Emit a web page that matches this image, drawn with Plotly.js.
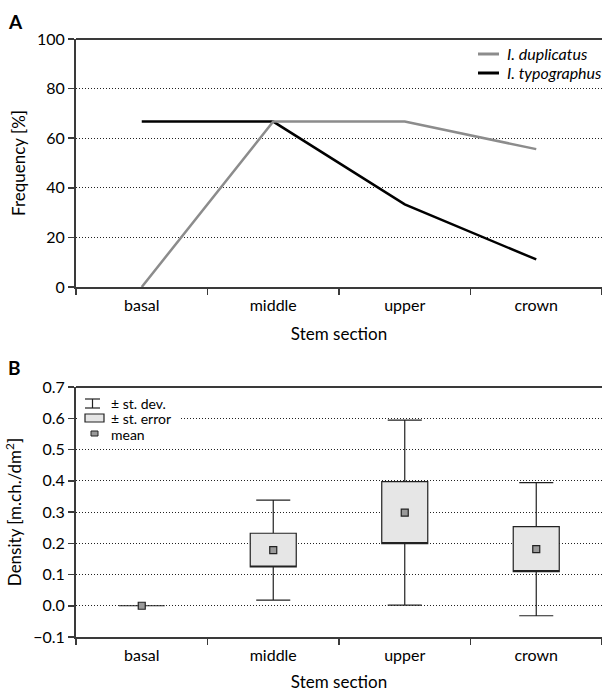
<!DOCTYPE html>
<html>
<head>
<meta charset="utf-8">
<script src="https://cdn.plot.ly/plotly-3.0.1.min.js"></script>
<style>html,body{margin:0;padding:0;background:#fff;}#chart{width:602px;height:692px;}</style>
</head>
<body>
<div id="chart"></div>
<script>
// ---- data ----
const sections = ['basal', 'middle', 'upper', 'crown'];
const duplicatusFreq = [0, 66.7, 66.7, 55.6];
const typographusFreq = [66.7, 66.7, 33.3, 11.1];
const densityMean = [0, 0.178, 0.298, 0.181];
const densityStErr = [0, 0.054, 0.099, 0.072];
const densityStDev = [0, 0.160, 0.296, 0.213];
const freqTicks = [0, 20, 40, 60, 80, 100];
const densTicks = [-0.1, 0, 0.1, 0.2, 0.3, 0.4, 0.5, 0.6, 0.7];
const seriesNames = ['I. duplicatus', 'I. typographus'];

// ---- geometry helpers (decorations only) ----
const W = 602, H = 692, ML = 76, MR = 0, MT = 39, MB = 55;
const PW = W - ML - MR, PH = H - MT - MB;
const px = p => (p - ML) / PW;
const py = p => (H - MB - p) / PH;

const FONT = 'Lato, "Open Sans", sans-serif';
const AXC = '#3a3a3a';
const GRAY = '#8c8c8c';

const q1 = densityMean.map((m, i) => m - densityStErr[i]);
const q3 = densityMean.map((m, i) => m + densityStErr[i]);
const lowF = densityMean.map((m, i) => m - densityStDev[i]);
const upF = densityMean.map((m, i) => m + densityStDev[i]);

const traces = [
  {type: 'scatter', mode: 'lines', x: sections, y: typographusFreq, name: seriesNames[1],
   line: {color: '#000000', width: 2.5}, xaxis: 'x', yaxis: 'y', showlegend: false},
  {type: 'scatter', mode: 'lines', x: sections, y: duplicatusFreq, name: seriesNames[0],
   line: {color: GRAY, width: 2.5}, xaxis: 'x', yaxis: 'y', showlegend: false},
  {type: 'box', x: sections, q1: q1, median: q1, q3: q3, lowerfence: lowF, upperfence: upF,
   width: 0.35, whiskerwidth: 0.74, fillcolor: '#e6e6e6', line: {color: '#222', width: 1.2},
   boxpoints: false, showlegend: false, xaxis: 'x2', yaxis: 'y2', hoverinfo: 'skip'},
  {type: 'scatter', mode: 'markers', x: sections, y: densityMean, showlegend: false,
   marker: {symbol: 'square', size: 7, color: '#9a9a9a', line: {color: '#222', width: 1.2}}, xaxis: 'x2', yaxis: 'y2'}
];

const xcommon = {
  type: 'category', categoryorder: 'array', categoryarray: sections, range: [-0.5, 3.5],
  showline: true, linecolor: AXC, linewidth: 2, mirror: false,
  ticks: 'outside', tickson: 'boundaries', ticklen: 6, tickwidth: 1.5, tickcolor: AXC,
  ticklabelstandoff: 3,
  showgrid: false, zeroline: false, tickfont: {family: FONT, size: 16, color: '#000'},
  fixedrange: true
};
const ycommon = {
  showline: true, linecolor: AXC, linewidth: 2, ticks: 'outside', ticklen: 6, tickwidth: 1.5, tickcolor: AXC,
  showgrid: true, gridcolor: '#222', gridwidth: 1, griddash: '1px,2px', zeroline: false,
  tickfont: {family: FONT, size: 16, color: '#000'}, fixedrange: true
};

const layout = {
  width: W, height: H,
  margin: {l: ML, r: MR, t: MT, b: MB},
  paper_bgcolor: '#fff', plot_bgcolor: '#fff',
  font: {family: FONT, color: '#000'},
  showlegend: false,
  xaxis: Object.assign({}, xcommon, {anchor: 'y',
    title: {text: 'Stem section', font: {family: FONT, size: 17}, standoff: 15}}),
  yaxis: Object.assign({}, ycommon, {domain: [py(287), 1], range: [0, 100], tickvals: freqTicks,
    title: {text: 'Frequency [%]', font: {family: FONT, size: 17}, standoff: 7}}),
  xaxis2: Object.assign({}, xcommon, {anchor: 'y2',
    title: {text: 'Stem section', font: {family: FONT, size: 17}, standoff: 15}}),
  yaxis2: Object.assign({}, ycommon, {domain: [0, py(387)], range: [-0.1, 0.7], tickvals: densTicks, tickformat: '.1f',
    title: {text: 'Density [m.ch./dm<sup>2</sup>]', font: {family: FONT, size: 17}, standoff: 7}}),
  shapes: [
    // top border lines
    {type: 'line', xref: 'paper', yref: 'paper', x0: 0, x1: 1, y0: 1, y1: 1, line: {color: AXC, width: 2}},
    {type: 'line', xref: 'paper', yref: 'paper', x0: 0, x1: 1, y0: py(387), y1: py(387), line: {color: AXC, width: 2}},
    // panel A legend icons
    {type: 'line', xref: 'paper', yref: 'paper', x0: px(478), x1: px(499), y0: py(54), y1: py(54), line: {color: GRAY, width: 3}},
    {type: 'line', xref: 'paper', yref: 'paper', x0: px(478), x1: px(499), y0: py(73), y1: py(73), line: {color: '#000', width: 3}},
    // panel B legend background and icons
    {type: 'rect', xref: 'paper', yref: 'paper', x0: px(78), x1: px(179), y0: py(392), y1: py(442), fillcolor: '#fff', line: {width: 0}},
    {type: 'line', xref: 'paper', yref: 'paper', x0: px(85), x1: px(100), y0: py(399), y1: py(399), line: {color: '#222', width: 1.2}},
    {type: 'line', xref: 'paper', yref: 'paper', x0: px(92.5), x1: px(92.5), y0: py(399), y1: py(408), line: {color: '#222', width: 1.2}},
    {type: 'line', xref: 'paper', yref: 'paper', x0: px(85), x1: px(100), y0: py(408), y1: py(408), line: {color: '#222', width: 1.2}},
    {type: 'rect', xref: 'paper', yref: 'paper', x0: px(85), x1: px(104), y0: py(414), y1: py(422), fillcolor: '#e6e6e6', line: {color: '#222', width: 1.2}},
    {type: 'rect', xref: 'paper', yref: 'paper', x0: px(91), x1: px(98), y0: py(431), y1: py(436), fillcolor: '#9a9a9a', line: {color: '#222', width: 1}}
  ],
  annotations: [
    {text: '<b>A</b>', xref: 'paper', yref: 'paper', x: px(6), y: py(22), xanchor: 'left', yanchor: 'middle', showarrow: false, font: {family: FONT, size: 19}},
    {text: '<b>B</b>', xref: 'paper', yref: 'paper', x: px(6), y: py(367), xanchor: 'left', yanchor: 'middle', showarrow: false, font: {family: FONT, size: 19}},
    {text: seriesNames[0], xref: 'paper', yref: 'paper', x: px(505), y: py(54), xanchor: 'left', yanchor: 'middle', showarrow: false, font: {family: FONT, size: 16, style: 'italic'}},
    {text: seriesNames[1], xref: 'paper', yref: 'paper', x: px(505), y: py(73), xanchor: 'left', yanchor: 'middle', showarrow: false, font: {family: FONT, size: 16, style: 'italic'}},
    {text: '± st. dev.', xref: 'paper', yref: 'paper', x: px(109), y: py(403), xanchor: 'left', yanchor: 'middle', showarrow: false, font: {family: FONT, size: 14}},
    {text: '± st. error', xref: 'paper', yref: 'paper', x: px(109), y: py(418.5), xanchor: 'left', yanchor: 'middle', showarrow: false, font: {family: FONT, size: 14}},
    {text: 'mean', xref: 'paper', yref: 'paper', x: px(109), y: py(434), xanchor: 'left', yanchor: 'middle', showarrow: false, font: {family: FONT, size: 14}}
  ]
};

Plotly.newPlot('chart', traces, layout, {displayModeBar: false, staticPlot: true});
</script>
</body>
</html>
